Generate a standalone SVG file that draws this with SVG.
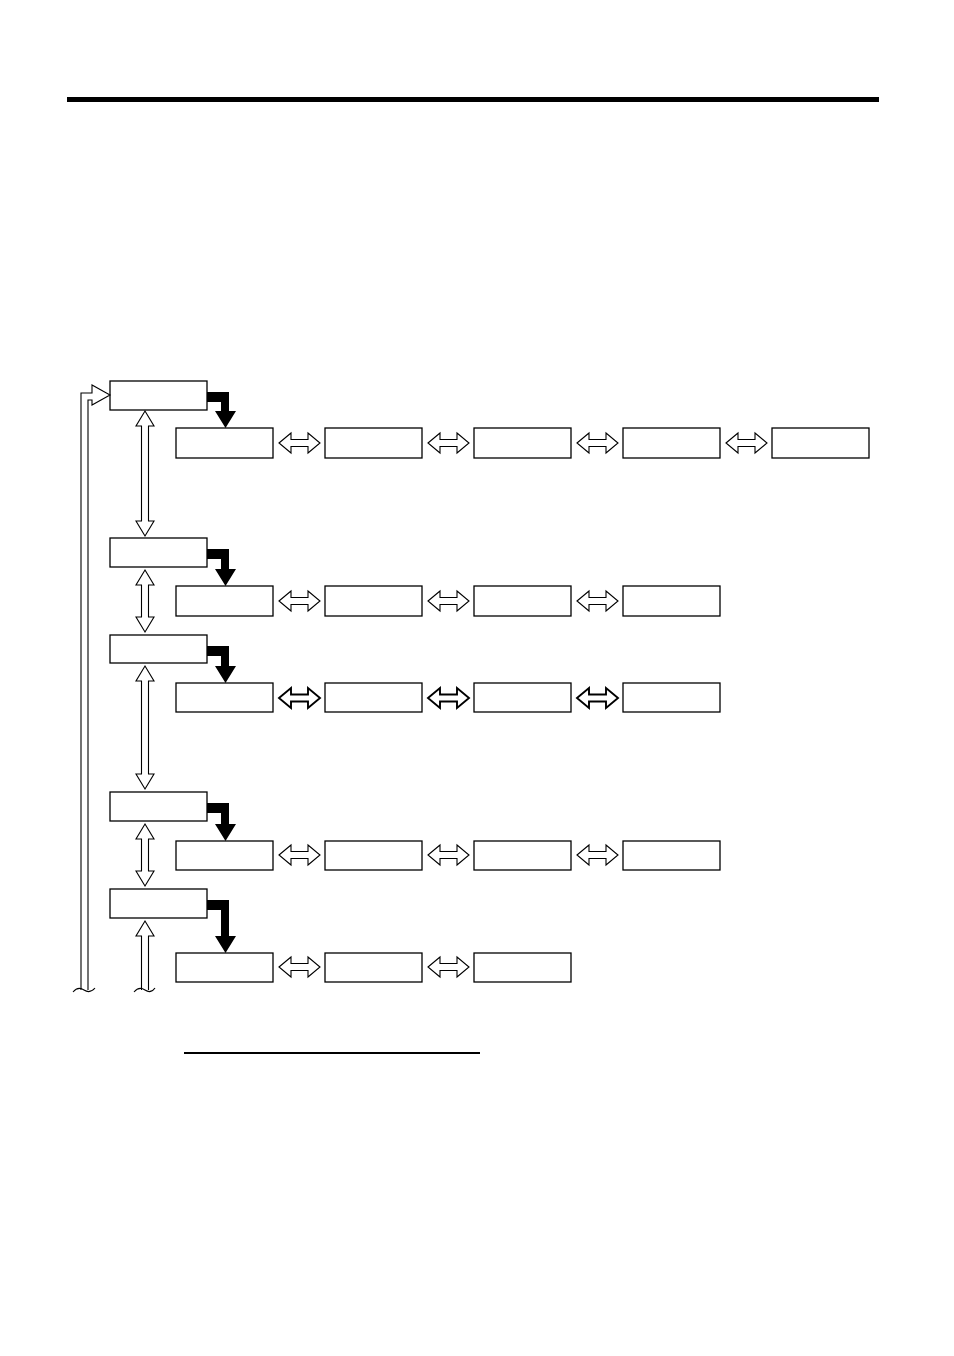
<svg xmlns="http://www.w3.org/2000/svg" width="954" height="1356" viewBox="0 0 954 1356">
<style>
.box{fill:#fff;stroke:#000;stroke-width:1.3}
.hol{fill:#fff;stroke:#000;stroke-width:1.1;stroke-linejoin:miter}
.hol2{fill:#fff;stroke:#000;stroke-width:1.9}
.blk{fill:#000;stroke:none}
.open{fill:none;stroke:#000;stroke-width:1.1}
</style>
<defs>
<path id="harr" d="M0,0 L12,-10 L12,-3.5 L29,-3.5 L29,-10 L41,0 L29,10 L29,3.5 L12,3.5 L12,10 Z"/>
</defs>
<rect x="67" y="97" width="812" height="5" fill="#000"/>
<rect x="184" y="1052" width="296" height="2" fill="#000"/>

<g id="m1"><rect class="box" x="110" y="381" width="97" height="29"/></g>
<g id="m2"><rect class="box" x="110" y="538" width="97" height="29"/></g>
<g id="m3"><rect class="box" x="110" y="635" width="97" height="28"/></g>
<g id="m4"><rect class="box" x="110" y="792" width="97" height="29"/></g>
<g id="m5"><rect class="box" x="110" y="889" width="97" height="29"/></g>

<g id="r1">
<rect class="box" x="176" y="428" width="97" height="30"/>
<rect class="box" x="325" y="428" width="97" height="30"/>
<rect class="box" x="474" y="428" width="97" height="30"/>
<rect class="box" x="623" y="428" width="97" height="30"/>
<rect class="box" x="772" y="428" width="97" height="30"/>
</g>
<g id="r2">
<rect class="box" x="176" y="586" width="97" height="30"/>
<rect class="box" x="325" y="586" width="97" height="30"/>
<rect class="box" x="474" y="586" width="97" height="30"/>
<rect class="box" x="623" y="586" width="97" height="30"/>
</g>
<g id="r3">
<rect class="box" x="176" y="683" width="97" height="29"/>
<rect class="box" x="325" y="683" width="97" height="29"/>
<rect class="box" x="474" y="683" width="97" height="29"/>
<rect class="box" x="623" y="683" width="97" height="29"/>
</g>
<g id="r4">
<rect class="box" x="176" y="841" width="97" height="29"/>
<rect class="box" x="325" y="841" width="97" height="29"/>
<rect class="box" x="474" y="841" width="97" height="29"/>
<rect class="box" x="623" y="841" width="97" height="29"/>
</g>
<g id="r5">
<rect class="box" x="176" y="953" width="97" height="29"/>
<rect class="box" x="325" y="953" width="97" height="29"/>
<rect class="box" x="474" y="953" width="97" height="29"/>
</g>

<g id="connectors">
<!-- black bent arrows -->
<polygon class="blk" points="207,392 229,392 229,411 236,411 225.5,428 215,411 221,411 221,402 207,402"/>
<polygon class="blk" points="207,549 229,549 229,569 236,569 225.5,586 215,569 221,569 221,559 207,559"/>
<polygon class="blk" points="207,646 229,646 229,666 236,666 225.5,683 215,666 221,666 221,656 207,656"/>
<polygon class="blk" points="207,803 229,803 229,824 236,824 225.5,841 215,824 221,824 221,813 207,813"/>
<polygon class="blk" points="207,900 229,900 229,936 236,936 225.5,953 215,936 221,936 221,910 207,910"/>

<!-- vertical double hollow arrows -->
<polygon class="hol" points="145,411 154,426 148.5,426 148.5,521 154,521 145,536 136,521 141.5,521 141.5,426 136,426"/>
<polygon class="hol" points="145,570 154,585 148.5,585 148.5,617 154,617 145,632 136,617 141.5,617 141.5,585 136,585"/>
<polygon class="hol" points="145,666 154,681 148.5,681 148.5,774 154,774 145,789 136,774 141.5,774 141.5,681 136,681"/>
<polygon class="hol" points="145,824 154,839 148.5,839 148.5,871 154,871 145,886 136,871 141.5,871 141.5,839 136,839"/>
<polyline class="hol" points="141.5,990 141.5,936 136,936 145,921 154,936 148.5,936 148.5,990"/>
<path class="open" d="M134,992 Q139,986 145,990 Q151,994 155,988"/>

<!-- feedback arrow -->
<polyline class="hol" points="81,990 81,393 92,393 92,385 110,395 92,405 92,400 88,400 88,990"/>
<path class="open" d="M73,992 Q78,986 84,990 Q90,994 95,988"/>

<!-- horizontal double hollow arrows -->
<use href="#harr" class="hol" x="279" y="443"/>
<use href="#harr" class="hol" x="428" y="443"/>
<use href="#harr" class="hol" x="577" y="443"/>
<use href="#harr" class="hol" x="726" y="443"/>

<use href="#harr" class="hol" x="279" y="601"/>
<use href="#harr" class="hol" x="428" y="601"/>
<use href="#harr" class="hol" x="577" y="601"/>

<use href="#harr" class="hol2" x="279" y="698"/>
<use href="#harr" class="hol2" x="428" y="698"/>
<use href="#harr" class="hol2" x="577" y="698"/>

<use href="#harr" class="hol" x="279" y="855"/>
<use href="#harr" class="hol" x="428" y="855"/>
<use href="#harr" class="hol" x="577" y="855"/>

<use href="#harr" class="hol" x="279" y="967"/>
<use href="#harr" class="hol" x="428" y="967"/>
</g>
</svg>
